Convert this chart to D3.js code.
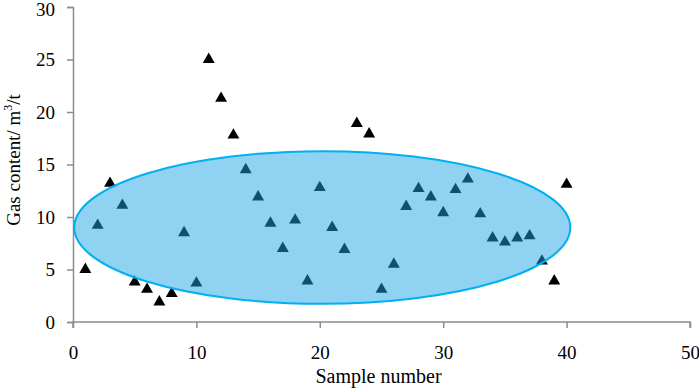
<!DOCTYPE html>
<html lang="en">
<head>
    <meta charset="UTF-8">
    <title>Gas content</title>
    <script src="https://d3js.org/d3.v7.min.js"></script>
    <style>
        body { margin: 0; background: #fff; }
        svg text { font-family: "Liberation Serif", "Times New Roman", Times, Tinos, "Nimbus Roman", "Nimbus Roman No9 L", "FreeSerif", "Noto Serif", "DejaVu Serif", serif; fill: #000; }
    </style>
</head>
<body>
<div id="chart"></div>
<script>
    // sample number and gas content (m3/t)
    let samples = d3.range(1, 41);
    let gasContent = [5.1, 9.3, 13.3, 11.2, 3.9, 3.2, 2.0, 2.8, 8.6, 3.8,
                      25.1, 21.4, 17.9, 14.6, 12.0, 9.5, 7.1, 9.8, 4.0, 12.9,
                      9.1, 7.0, 19.0, 18.0, 3.2, 5.6, 11.1, 12.8, 12.0, 10.5,
                      12.7, 13.7, 10.4, 8.1, 7.7, 8.1, 8.3, 5.9, 4.0, 13.2];
    let xTicks = [0, 10, 20, 30, 40, 50];
    let yTicks = [0, 5, 10, 15, 20, 25, 30];
    // ellipse: centre x, centre y, radius x, radius y (data units)
    let ellipseCx = 20.2, ellipseCy = 9.0, ellipseRx = 20.1, ellipseRy = 7.27;

    let width = 699, height = 388;
    let margin = {top: 7, right: 9, bottom: 66, left: 73};

    let svg = d3.select("#chart").append("svg")
        .attr("width", width)
        .attr("height", height);

    let x = d3.scaleLinear().domain([0, 50]).range([margin.left, width - margin.right]);
    let y = d3.scaleLinear().domain([0, 30]).range([height - margin.bottom, margin.top]);

    let xAxis = svg.append("g")
        .attr("transform", `translate(0,${y(0)})`)
        .call(d3.axisBottom(x).tickValues(xTicks).tickSize(6).tickPadding(18));
    let yAxis = svg.append("g")
        .attr("transform", `translate(${x(0)},0)`)
        .call(d3.axisLeft(y).tickValues(yTicks).tickSize(6).tickPadding(12));

    [xAxis, yAxis].forEach(a => {
        a.attr("font-family", null);
        a.select(".domain").attr("stroke", "#8c8c8c").attr("stroke-width", 1.5);
        a.selectAll(".tick line").attr("stroke", "#8c8c8c").attr("stroke-width", 1.5);
        a.selectAll(".tick text")
            .attr("font-size", 19)
            .attr("fill", "#000");
    });
    xAxis.select(".domain").attr("d", `M${x(0)},6V0H${x(50)}V6`);
    yAxis.select(".tick:last-of-type text").attr("dy", "0.45em");

    let tri = d3.symbol().type(d3.symbolTriangle).size(62);
    svg.append("g")
        .selectAll("path")
        .data(samples)
        .enter()
        .append("path")
        .attr("d", tri)
        .attr("transform", (d, i) => `translate(${x(d)},${y(gasContent[i]) + 1})`)
        .attr("fill", "#000");

    svg.append("ellipse")
        .attr("cx", x(ellipseCx))
        .attr("cy", y(ellipseCy))
        .attr("rx", x(ellipseCx + ellipseRx) - x(ellipseCx))
        .attr("ry", y(0) - y(ellipseRy))
        .attr("fill", "rgb(26,163,229)")
        .attr("fill-opacity", 0.49)
        .attr("stroke", "#00b0f0")
        .attr("stroke-width", 2);

    svg.append("text")
        .attr("x", x(25) - 3)
        .attr("y", 383)
        .attr("text-anchor", "middle")
        .attr("font-size", 20)
        .text("Sample number");

    let yl = svg.append("text")
        .attr("transform", `translate(20,160) rotate(-90)`)
        .attr("text-anchor", "middle")
        .attr("font-size", 19);
    yl.append("tspan").text("Gas content/ m");
    yl.append("tspan").attr("font-size", 12).attr("dy", -8).text("3");
    yl.append("tspan").attr("dy", 8).text("/t");
</script>
</body>
</html>
